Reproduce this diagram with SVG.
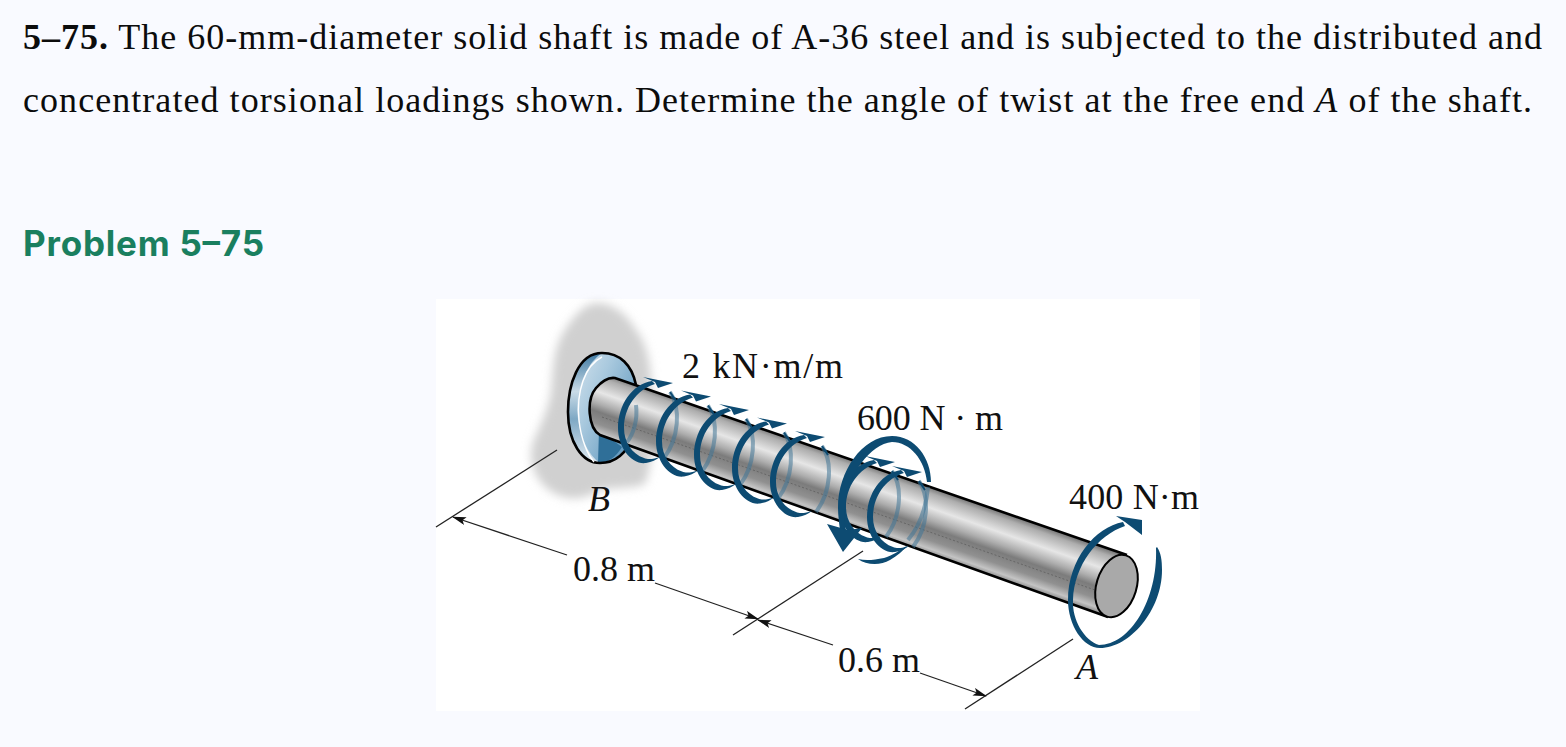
<svg xmlns="http://www.w3.org/2000/svg" width="1566" height="747" viewBox="0 0 1566 747">
<style>
.body{font-family:"Liberation Serif","Times New Roman",serif;font-size:36px;fill:#0c0c0c}
.lab{font-family:"Liberation Serif","Times New Roman",serif;font-size:36px;fill:#111}
.it{font-style:italic}
.head{font-family:Inter,"Liberation Sans",sans-serif;font-size:35px;font-weight:700;fill:#1a7f5f}
.dim{stroke:#222;stroke-width:1.3;fill:none}
.blue{fill:#0d4b72}
.fade{fill:none;stroke:#3f7596;stroke-opacity:.55;stroke-width:4}
.tip{fill:none;stroke:#0d4b72;stroke-width:2}
.edge{fill:none;stroke:#000;stroke-width:2.6}
</style>
<defs>
<linearGradient id="shaft" gradientUnits="userSpaceOnUse" x1="872" y1="466" x2="851" y2="526">
<stop offset="0" stop-color="#707070"/><stop offset=".1" stop-color="#adadad"/><stop offset=".32" stop-color="#e6e6e6"/><stop offset=".5" stop-color="#adadad"/><stop offset=".62" stop-color="#7c7c7c"/><stop offset=".8" stop-color="#909090"/><stop offset=".93" stop-color="#c4c4c4"/><stop offset="1" stop-color="#909090"/>
</linearGradient>
<linearGradient id="flange" x1="0" y1="0" x2="1" y2=".7">
<stop offset="0" stop-color="#dbe7f0"/><stop offset=".45" stop-color="#a9c9de"/><stop offset="1" stop-color="#5f97bd"/>
</linearGradient>
<linearGradient id="rim" x1="0" y1="0" x2="0" y2="1">
<stop offset="0" stop-color="#3f7aa3"/><stop offset=".35" stop-color="#c9dbe7"/><stop offset=".6" stop-color="#7ea8c4"/><stop offset="1" stop-color="#dfe9f1"/>
</linearGradient>
<filter id="soft" x="-20%" y="-20%" width="140%" height="140%"><feGaussianBlur stdDeviation="5"/></filter>
<marker id="ah" viewBox="0 0 14 8" refX="13" refY="4" markerWidth="14" markerHeight="8" markerUnits="userSpaceOnUse" orient="auto-start-reverse"><path d="M0,0 L14,4 L0,8 L3,4 Z" fill="#111"/></marker>
<g id="coilBack">
<path class="fade" d="M670,392 C681,408 679,438 664,458"/>
<path class="tip" d="M670,392 L676,401"/>
</g>
<g id="coilFront">
<path class="blue" d="M652,381 C632,384 618,405 618,428 C618,448 632,465 646,463 C652,462 656,460 660,457 C654,459 648,460 644,458 C632,454 624,442 624,428 C624,408 636,390 655,384 Z"/>
<path class="blue" d="M643,377 L673,383 L658,388 L655,382 Z"/>
</g>
</defs>
<rect width="1566" height="747" fill="#f9faff"/>
<g id="problem-text">
<text class="body" x="23" y="49" textLength="1519" lengthAdjust="spacing"><tspan font-weight="700">5–75.</tspan> The 60-mm-diameter solid shaft is made of A-36 steel and is subjected to the distributed and</text>
<text class="body" x="23" y="112" textLength="1509" lengthAdjust="spacing">concentrated torsional loadings shown. Determine the angle of twist at the free end <tspan class="it">A</tspan> of the shaft.</text>
<text class="head" x="23" y="256" textLength="241" lengthAdjust="spacing">Problem 5–75</text>
</g>
<g id="figure">
<rect x="436" y="299" width="764" height="412" fill="#fff"/>
<path id="wall" filter="url(#soft)" fill="#d0d0d0" d="M597,303 C614,303 628,316 636,330 C650,348 651,372 652,395 C653,425 654,462 645,484 C628,490 610,486 598,491 C585,499 568,502 552,492 C536,482 527,462 533,442 C541,424 548,410 551,392 C553,370 553,350 563,333 C572,318 584,303 597,303 Z"/>
<g id="flange-part">
<path d="M602,353 C578,353 568,385 568,412 C568,442 582,463 600,463 C618,463 632,445 636,420 L636,385 C632,365 620,353 602,353 Z" fill="url(#flange)"/>
<path d="M602,353 C578,353 568,385 568,412 C568,442 582,463 600,463 L596,460 C584,448 577,428 577,405 C578,385 588,362 602,353 Z" fill="url(#rim)"/>
<path d="M598,463 L599,430 L622,447 C616,457 608,463 598,463 Z" fill="#2f6f98"/>
<path d="M602,353 C578,353 568,385 568,412 C568,442 582,463 600,463 C618,463 628,450 634,435 M602,353 C620,353 632,365 636,385" class="edge"/>
<path d="M602,357 C585,365 576,392 579,420 C581,440 588,455 594,462" fill="none" stroke="#fff" stroke-width="1.4"/>
</g>
<g id="shaft-part">
<path d="M615,378 L1127,555 L1108,617 L600,435 C588,428 586,400 596,388 C602,381 608,377 615,378 Z" fill="url(#shaft)"/>
<path d="M602,417 L1095,590" fill="none" stroke="#666" stroke-width="1" stroke-dasharray="2 2"/>
<path class="edge" d="M1127,555 L615,378 C608,377 602,381 596,388 C586,400 588,428 600,435 L1108,617"/>
<ellipse cx="1116.5" cy="586" rx="20" ry="32" transform="rotate(17 1116.5 586)" fill="#a9a9a9" stroke="#000" stroke-width="2"/>
</g>
<g id="torques-back">
<path class="fade" d="M636,405 C638,420 633,435 627,442"/>
<use href="#coilBack"/>
<use href="#coilBack" x="38" y="13.5"/>
<use href="#coilBack" x="76" y="27"/>
<use href="#coilBack" x="114" y="40.5"/>
<use href="#coilBack" x="152" y="54"/>
<use href="#coilBack" x="222" y="79"/>
<use href="#coilBack" x="249" y="89"/>
<path class="fade" d="M928,487 C926,510 918,528 908,540"/>
</g>
<g id="torques-front">
<use href="#coilFront"/>
<use href="#coilFront" x="38" y="13.5"/>
<use href="#coilFront" x="76" y="27"/>
<use href="#coilFront" x="114" y="40.5"/>
<use href="#coilFront" x="152" y="54"/>
<use href="#coilFront" x="222" y="79"/>
<use href="#coilFront" x="249" y="89"/>
<path id="torque-600" class="blue" d="M931,482 C931,458 915,436 892,436 C862,436 838,472 838,507 C838,515 839,522 840,530 L846,530 C844,522 844,512 845,505 C848,475 870,444 892,442 C910,442 925,460 927,482 Z"/>
<path class="blue" d="M827,524 L848,530 L862,528 L843,552 Z"/>
<path class="blue" d="M858,559 C866,565 880,566 890,560 C897,556 903,551 908,545 C900,550 892,556 884,558 C874,560 866,561 858,559 Z"/>
<path id="torque-400" class="blue" d="M1123,522 C1095,527 1068,560 1068,600 C1068,625 1083,648 1100,648 C1130,648 1162,610 1162,570 C1162,560 1161,553 1157,547 L1156,548 C1158,600 1130,645 1099,645 C1084,640 1072,620 1073,600 C1074,565 1098,535 1125,526 Z"/>
<path class="blue" d="M1116,516 L1142,520 L1142,535 L1125,522 Z"/>
</g>
<g id="dimensions">
<path class="dim" d="M436,527 L557,450"/>
<path class="dim" d="M733,635 L863,551"/>
<path class="dim" d="M965,709 L1073,639"/>
<path class="dim" d="M567,555 L453,517" marker-end="url(#ah)"/>
<path class="dim" d="M655,583 L758,619" marker-end="url(#ah)"/>
<path class="dim" d="M833,645 L758,620" marker-end="url(#ah)"/>
<path class="dim" d="M920,673 L986,696" marker-end="url(#ah)"/>
</g>
<g id="labels">
<text class="lab" x="682" y="378" textLength="161" lengthAdjust="spacing">2 kN·m/m</text>
<text class="lab" x="857" y="430" textLength="146" lengthAdjust="spacing">600 N · m</text>
<text class="lab" x="1069" y="509" textLength="130" lengthAdjust="spacing">400 N·m</text>
<text class="lab" x="573" y="581">0.8 m</text>
<text class="lab" x="838" y="672">0.6 m</text>
<text class="lab it" x="588" y="511">B</text>
<text class="lab it" x="1076" y="679">A</text>
</g>
</g>
</svg>
